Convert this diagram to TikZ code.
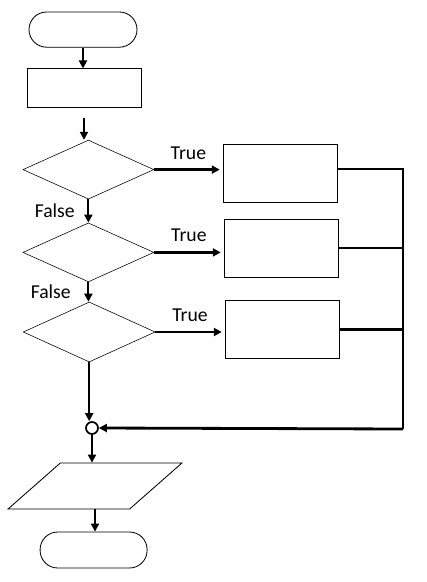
\documentclass[tikz,border=0pt]{standalone}
\usepackage{fontspec}
\setmainfont{Carlito}
\usetikzlibrary{arrows.meta,positioning,shapes.geometric,calc}

\begin{document}
\begin{tikzpicture}[
  term/.style={draw, rounded corners=0.44cm, minimum width=2.7cm, minimum height=0.88cm, line width=0.6pt},
  proc/.style={draw, minimum width=2.85cm, minimum height=1.45cm, line width=0.6pt},
  cond/.style={draw, diamond, minimum width=3.275cm, minimum height=1.475cm, inner sep=0pt, line width=0.4pt},
  io/.style={draw, trapezium, trapezium left angle=53, trapezium right angle=127, trapezium stretches=true, minimum width=4.35cm, minimum height=1.15cm, line width=0.6pt},
  arr/.style={-{Triangle[length=2mm,width=2mm]}, line width=1.4pt},
  harr/.style={-{Triangle[length=2mm,width=2mm]}, line width=2pt},
  bus/.style={line width=2.1pt},
  lbl/.style={font=\fontsize{14}{16}\selectfont},
]
  \useasboundingbox (0,0) rectangle (10.65,-14.55);

  \node[term] (start) at (2.075,-0.74) {};
  \node[proc, minimum height=0.975cm] (init) at (2.1,-2.21) {};
  \node[cond] (c1) at (2.21,-4.24) {};
  \node[cond] (c2) at (2.21,-6.31) {};
  \node[cond, minimum width=3.3cm, minimum height=1.5cm] (c3) at (2.23,-8.3) {};
  \node[proc] (act1) at (7.0,-4.33) {};
  \node[proc] (act2) at (7.025,-6.2) {};
  \node[proc] (act3) at (7.05,-8.23) {};
  \node[draw, circle, minimum size=0.3cm, inner sep=0pt, line width=1.2pt] (join) at (2.3,-10.7) {};
  \node[io] (out) at (2.375,-12.15) {};
  \node[term, minimum width=2.675cm, minimum height=0.9cm] (stop) at (2.34,-13.75) {};
  \coordinate (bustop) at (10.075,-4.225);
  \coordinate (busbot) at (10.075,-10.725);

  \draw[arr] (start.south) -- (start.south |- init.north);
  \draw[arr, shorten <=0.25cm] (init.south) -- (init.south |- c1.north);
  \draw[arr] (c1.south) -- node[left, lbl, xshift=-0.2cm] {False} (c1.south |- c2.north);
  \draw[arr] (c2.south) -- node[left, lbl, xshift=-0.3cm] {False} (c2.south |- c3.north);
  \draw[arr] (c3.south) -- (c3.south |- join.north);
  \draw[arr] (join.south) -- (join.south |- out.north);
  \draw[arr] (out.south) -- (out.south |- stop.north);

  \draw[harr, shorten >=2pt] (c1.east) -- node[above=3pt, lbl] {True} (c1.east -| act1.west);
  \draw[harr, shorten >=2pt] (c2.east) -- node[above=3pt, lbl] {True} (c2.east -| act2.west);
  \draw[harr, shorten >=2pt] (c3.east) -- node[above=3pt, lbl] {True} (c3.east -| act3.west);

  \draw[bus] (bustop -| act1.east) -- (bustop) -- (busbot);
  \draw[bus] (act2.east) -- (act2.east -| bustop);
  \draw[bus] (act3.east) -- (act3.east -| bustop);
  \draw[harr] (busbot) -- (join.east);
\end{tikzpicture}
\end{document}
